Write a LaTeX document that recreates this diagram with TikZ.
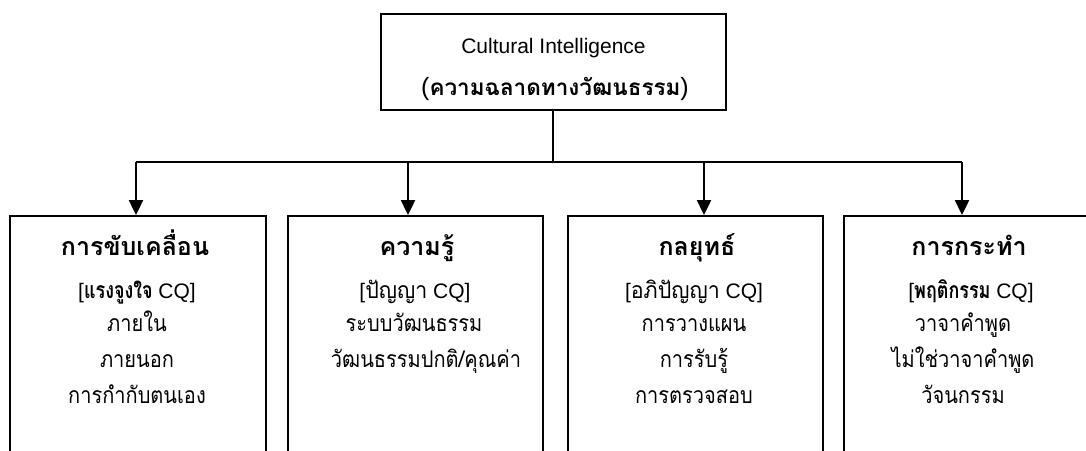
\documentclass[tikz,border=0pt]{standalone}
\usepackage{fontspec}
\setmainfont{Liberation Sans}
\newfontfamily\thitem[Script=Thai,FakeStretch=0.87]{Loma}
\newfontfamily\thtag[Script=Thai,FakeStretch=0.93]{Loma}
\newfontfamily\thtagb[Script=Thai,FakeStretch=0.78]{Loma}
\newfontfamily\thhead[Script=Thai]{Loma}
\usetikzlibrary{arrows.meta}
\newcommand\thr[1]{{\thtag\fontsize{23}{27}\selectfont #1}}
\newcommand\thbold[1]{{\thtagb\bfseries\fontsize{23}{27}\selectfont #1}}
\begin{document}
\begin{tikzpicture}[x=1pt,y=1pt,
  box/.style={draw, line width=2pt, rectangle, inner sep=0pt, anchor=north west},
  link/.style={line width=2.4pt},
  feed/.style={line width=2.4pt, -{Triangle[length=15pt,width=14pt]}},
  head/.style={anchor=base, font=\thhead\bfseries\fontsize{25}{30}\selectfont},
  tag/.style={anchor=base, font=\fontsize{21}{25}\selectfont},
  item/.style={anchor=base, font=\thitem\fontsize{23}{27}\selectfont},
  toptext/.style={anchor=base, font=\fontsize{21}{25}\selectfont}]
\useasboundingbox (0,0) rectangle (1086,-450);
\clip (0,0) rectangle (1086,-450);

% root box
\node[draw, line width=2pt, rectangle, minimum width=345pt, minimum height=96pt] (root) at (553.5,-62) {};
\node[toptext] (rootA) at (553.5,-53) {Cultural Intelligence};
\node[toptext] (rootB) at (555,-95) {\fontsize{25}{28}\selectfont({\thhead\bfseries\fontsize{22.5}{28}\selectfont ความฉลาดทางวัฒนธรรม})};

% four branch boxes, open at the lower edge of the page
\node[box, minimum width=256pt, minimum height=300pt] (b1) at (9,-215) {};
\node[box, minimum width=255pt, minimum height=300pt] (b2) at (287,-215) {};
\node[box, minimum width=255pt, minimum height=300pt] (b3) at (567,-215) {};
\node[box, minimum width=260pt, minimum height=300pt] (b4) at (843,-215) {};

% junction points on the distribution line
\coordinate (hub) at (553,-162);
\coordinate (j1) at (136,-162);
\coordinate (j2) at (408,-162);
\coordinate (j3) at (704,-162);
\coordinate (j4) at (962,-162);

\draw[link] (root.south -| hub) -- (hub);
\draw[link] (j1) -- (j4);
\draw[feed] (j1) -- (j1 |- b1.north);
\draw[feed] (j2) -- (j2 |- b2.north);
\draw[feed] (j3) -- (j3 |- b3.north);
\draw[feed] (j4) -- (j4 |- b4.north);

% box texts
\node[head] (t1) at (135,-255) {การขับเคลื่อน};
\node[tag]  (s1) at (137,-298) {[\thbold{แรงจูงใจ} CQ]};
\node[item] (a1) at (137,-331) {ภายใน};
\node[item] (c1) at (137,-367) {ภายนอก};
\node[item] (d1) at (137,-403) {การกำกับตนเอง};

\node[head] (t2) at (417,-255) {ความรู้};
\node[tag]  (s2) at (415,-298) {[\thr{ปัญญา} CQ]};
\node[item] (a2) at (414,-331) {ระบบวัฒนธรรม};
\node[item] (c2) at (426,-367) {วัฒนธรรมปกติ/คุณค่า};

\node[head] (t3) at (697,-255) {กลยุทธ์};
\node[tag]  (s3) at (694,-298) {[\thr{อภิปัญญา} CQ]};
\node[item] (a3) at (694,-331) {การวางแผน};
\node[item] (c3) at (694,-367) {การรับรู้};
\node[item] (d3) at (694,-403) {การตรวจสอบ};

\node[head] (t4) at (969,-255) {การกระทำ};
\node[tag]  (s4) at (971,-298) {[\thbold{พฤติกรรม} CQ]};
\node[item] (a4) at (963,-331) {วาจาคำพูด};
\node[item] (c4) at (963,-367) {ไม่ใช่วาจาคำพูด};
\node[item] (d4) at (963,-403) {วัจนกรรม};
\end{tikzpicture}
\end{document}
